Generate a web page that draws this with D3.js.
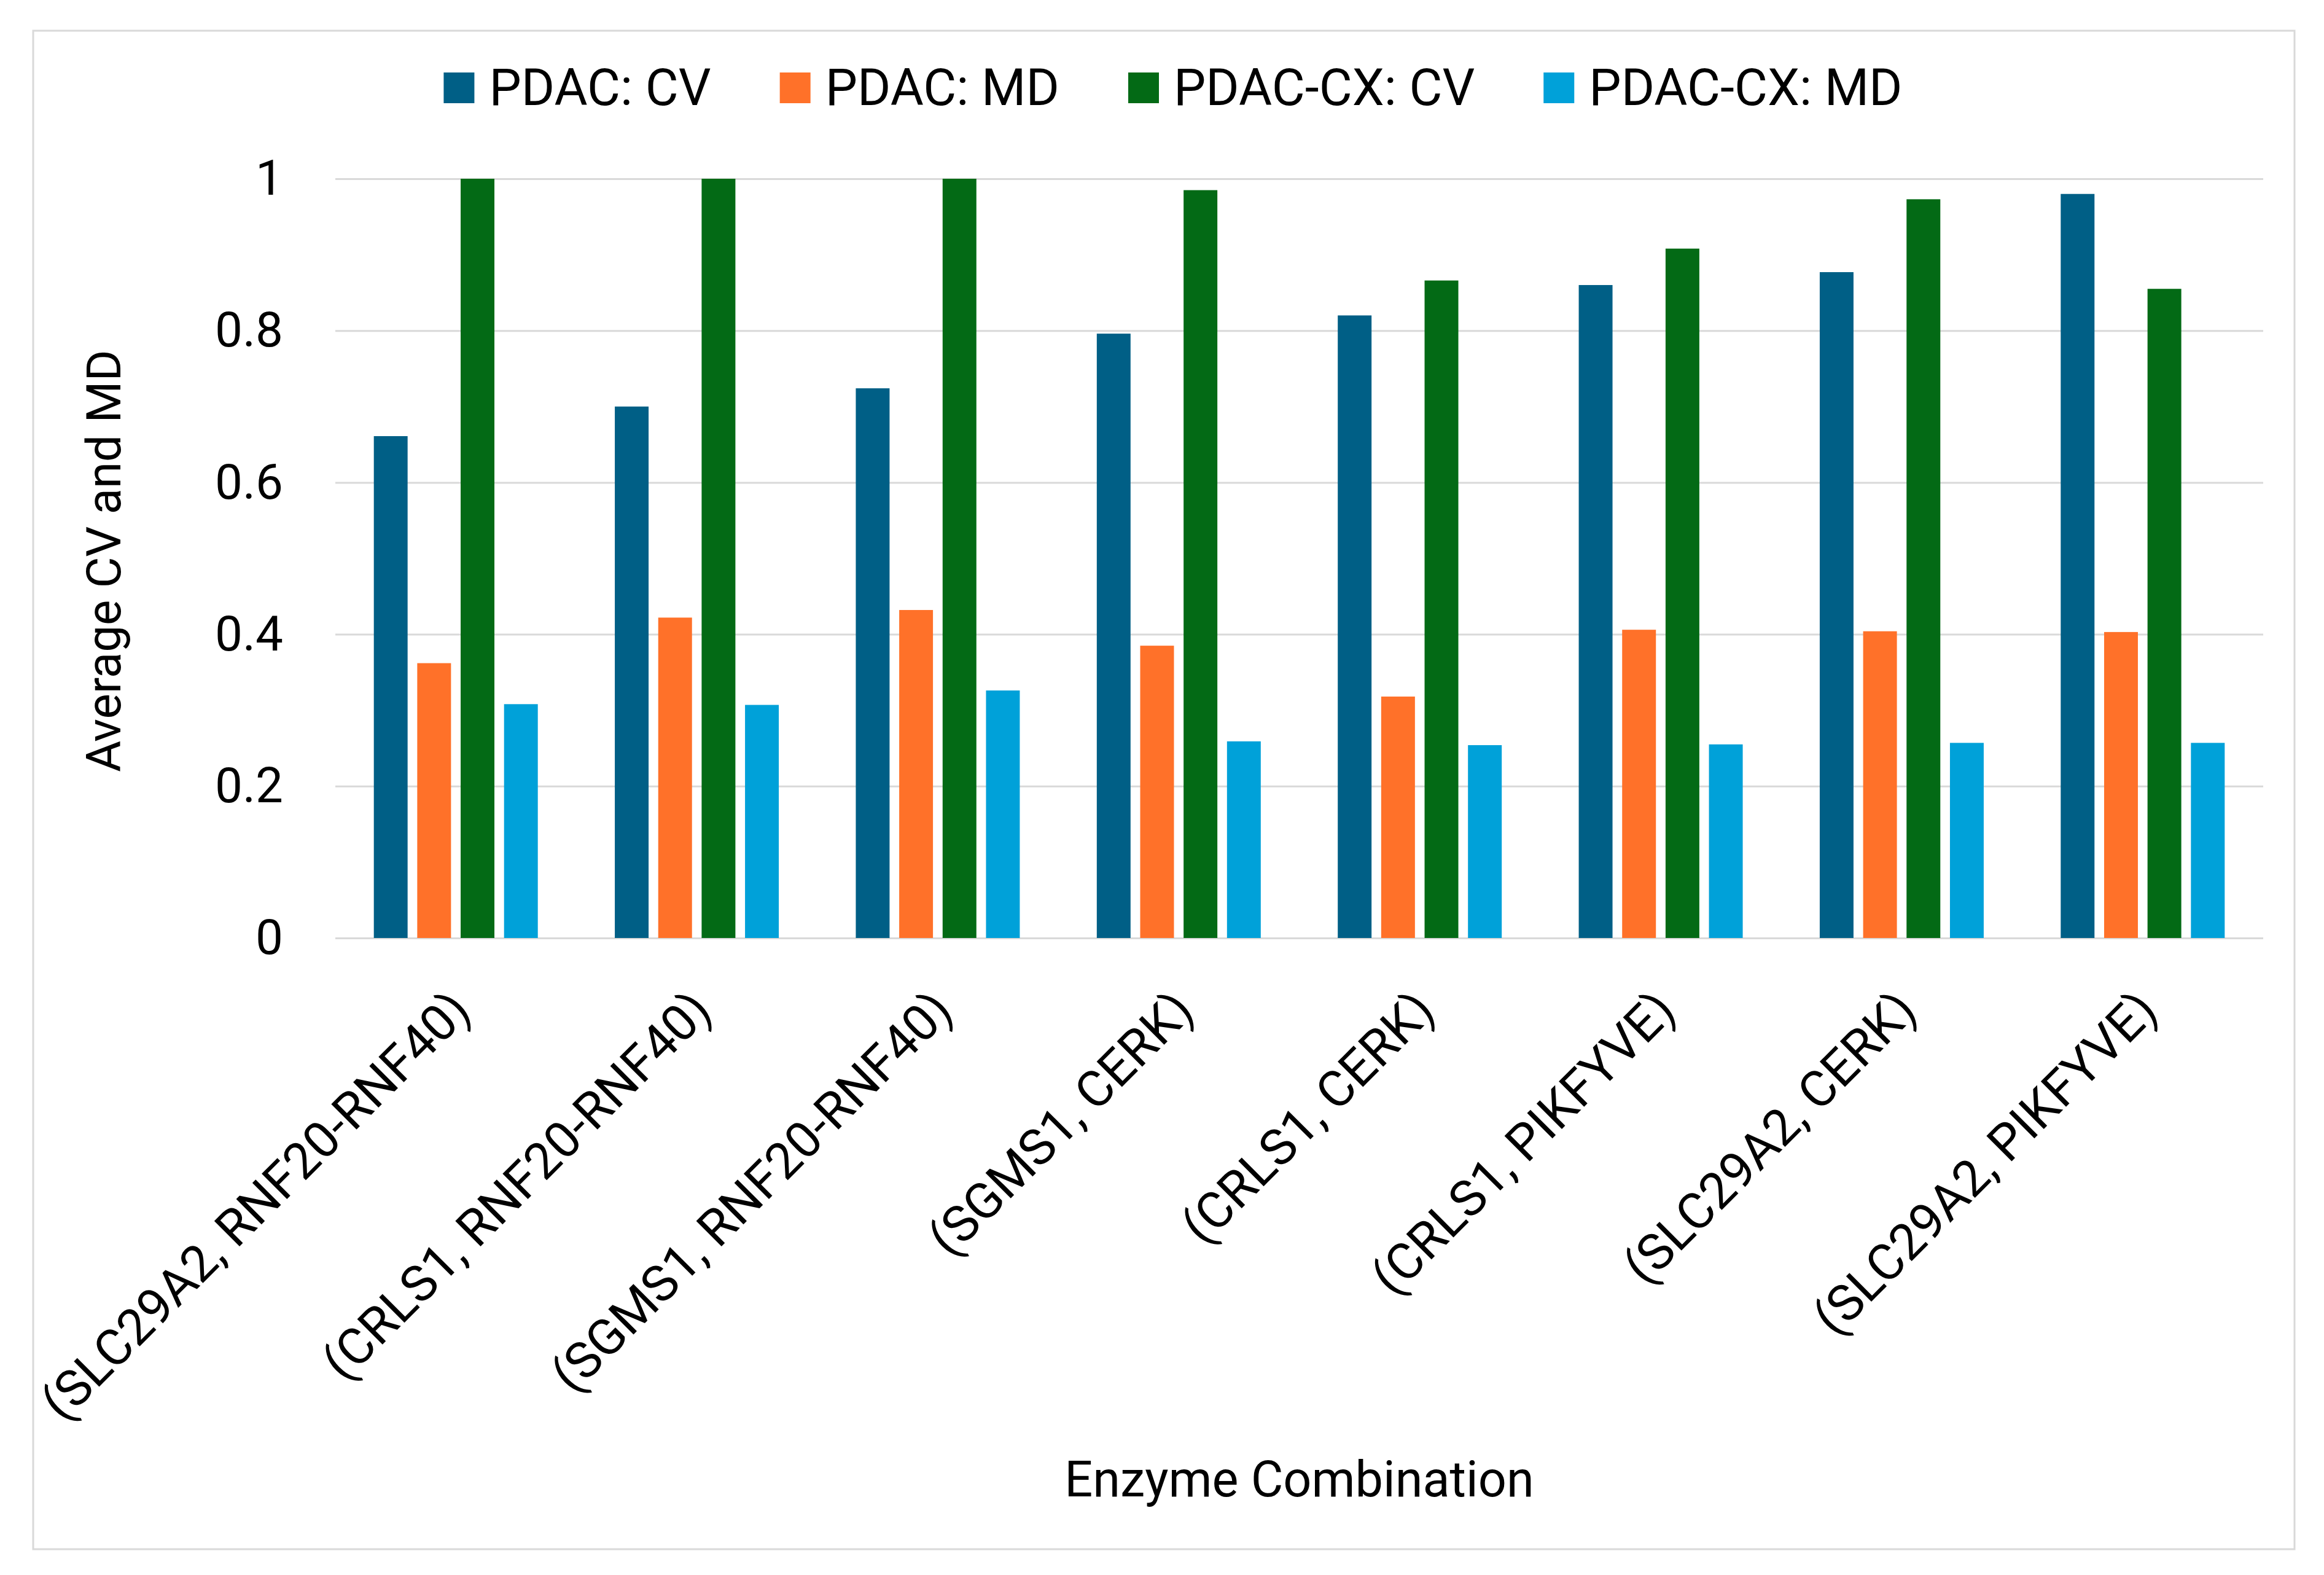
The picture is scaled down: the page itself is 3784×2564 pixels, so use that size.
<!DOCTYPE html>
<html>
<head>
<meta charset="utf-8">
<script src="https://cdn.jsdelivr.net/npm/d3@7"></script>
<style>
  html, body { margin: 0; padding: 0; background: #ffffff; }
  svg { display: block; }
  text { font-family: Roboto, "Noto Sans", Arial, sans-serif; fill: #000; }
</style>
</head>
<body>
<svg id="chart"></svg>
<script>
// ---- data ----
const categories = [
  "(SLC29A2, RNF20-RNF40)",
  "(CRLS1, RNF20-RNF40)",
  "(SGMS1, RNF20-RNF40)",
  "(SGMS1, CERK)",
  "(CRLS1, CERK)",
  "(CRLS1, PIKFYVE)",
  "(SLC29A2, CERK)",
  "(SLC29A2, PIKFYVE)"
];
const seriesNames = ["PDAC: CV", "PDAC: MD", "PDAC-CX: CV", "PDAC-CX: MD"];
const pdacCV   = [0.661, 0.700, 0.724, 0.796, 0.820, 0.860, 0.877, 0.980];
const pdacMD   = [0.362, 0.422, 0.432, 0.385, 0.318, 0.406, 0.404, 0.403];
const cxCV     = [1.000, 1.000, 1.000, 0.985, 0.866, 0.908, 0.973, 0.855];
const cxMD     = [0.308, 0.307, 0.326, 0.259, 0.254, 0.255, 0.257, 0.257];
const yTickValues = [0, 0.2, 0.4, 0.6, 0.8, 1];
const yTickLabels = ["0", "0.2", "0.4", "0.6", "0.8", "1"];
const colors = ["#005F86", "#FF7129", "#036A15", "#00A1D9"];
const yTitle = "Average CV and MD";
const xTitle = "Enzyme Combination";

const seriesValues = [pdacCV, pdacMD, cxCV, cxMD];

// ---- layout ----
const W = 3784, H = 2564;
const plot = { left: 546, right: 3685, top: 291, bottom: 1527 };
const FONT = 80;

const svg = d3.select("#chart").attr("width", W).attr("height", H);
svg.append("rect").attr("x", 0).attr("y", 0).attr("width", W).attr("height", H).attr("fill", "#fff");
// chart border
svg.append("rect").attr("x", 54).attr("y", 50).attr("width", 3736 - 54).attr("height", 2522 - 50)
  .attr("fill", "none").attr("stroke", "#d9d9d9").attr("stroke-width", 3);

const x0 = d3.scaleBand().domain(categories).range([plot.left, plot.right]).paddingInner(0).paddingOuter(0);
const groupW = 267;
const x1 = d3.scaleBand().domain(seriesNames).range([0, groupW]).paddingInner(0.222).paddingOuter(0);
const y = d3.scaleLinear().domain([0, 1]).range([plot.bottom, plot.top]);
const color = d3.scaleOrdinal().domain(seriesNames).range(colors);

// gridlines
const grid = svg.append("g").attr("transform", `translate(${plot.left},0)`)
  .call(d3.axisLeft(y).tickValues(yTickValues).tickSize(-(plot.right - plot.left)).tickFormat(""));
grid.select(".domain").remove();
grid.selectAll(".tick line").attr("stroke", "#d9d9d9").attr("stroke-width", 3);

// y axis labels
const yAxis = svg.append("g").attr("transform", `translate(461,0)`)
  .call(d3.axisLeft(y).tickValues(yTickValues).tickSize(0).tickPadding(0)
    .tickFormat((d, i) => yTickLabels[i]));
yAxis.select(".domain").remove();
yAxis.selectAll("text").attr("font-size", FONT).attr("font-family", "Roboto").attr("fill", "#000");

// bars
const tableRows = categories.map((c, i) => ({ cat: c, vals: seriesNames.map((s, j) => ({ s, v: seriesValues[j][i] })) }));
const off = (x0.bandwidth() - groupW) / 2;
const groups = svg.append("g").selectAll("g").data(tableRows).join("g")
  .attr("transform", d => `translate(${x0(d.cat) + off},0)`);
groups.selectAll("rect").data(d => d.vals).join("rect")
  .attr("x", d => x1(d.s))
  .attr("width", x1.bandwidth())
  .attr("y", d => y(d.v))
  .attr("height", d => y(0) - y(d.v))
  .attr("fill", d => color(d.s));

// x axis labels
const xAxis = svg.append("g").attr("transform", `translate(0,${plot.bottom})`)
  .call(d3.axisBottom(x0).tickSize(0));
xAxis.select(".domain").remove();
xAxis.selectAll(".tick text")
  .attr("font-size", 82).attr("font-family", "Roboto").attr("fill", "#000")
  .attr("text-anchor", "end")
  .attr("dy", null).attr("y", null)
  .attr("transform", "translate(28,122) rotate(-45)");

// axis titles
svg.append("text").attr("transform", `translate(196,913) rotate(-90)`)
  .attr("text-anchor", "middle").attr("font-size", 78).text(yTitle);
svg.append("text").attr("x", (plot.left + plot.right) / 2).attr("y", 2436)
  .attr("text-anchor", "middle").attr("font-size", 81).text(xTitle);

// legend
const legend = svg.append("g");
const items = legend.selectAll("g").data(seriesNames).join("g");
items.append("rect").attr("width", 50).attr("height", 50).attr("y", 118).attr("fill", d => color(d));
items.append("text").attr("x", 74).attr("y", 171).attr("font-size", 83).text(d => d);
let cursor = 0;
const widths = [];
items.each(function () { widths.push(this.querySelector("text").getComputedTextLength() + 74); });
const gap = 112;
const total = d3.sum(widths) + gap * (widths.length - 1);
cursor = 1910 - total / 2;
items.attr("transform", (d, i) => {
  const t = `translate(${cursor},0)`;
  cursor += widths[i] + gap;
  return t;
});
</script>
</body>
</html>
